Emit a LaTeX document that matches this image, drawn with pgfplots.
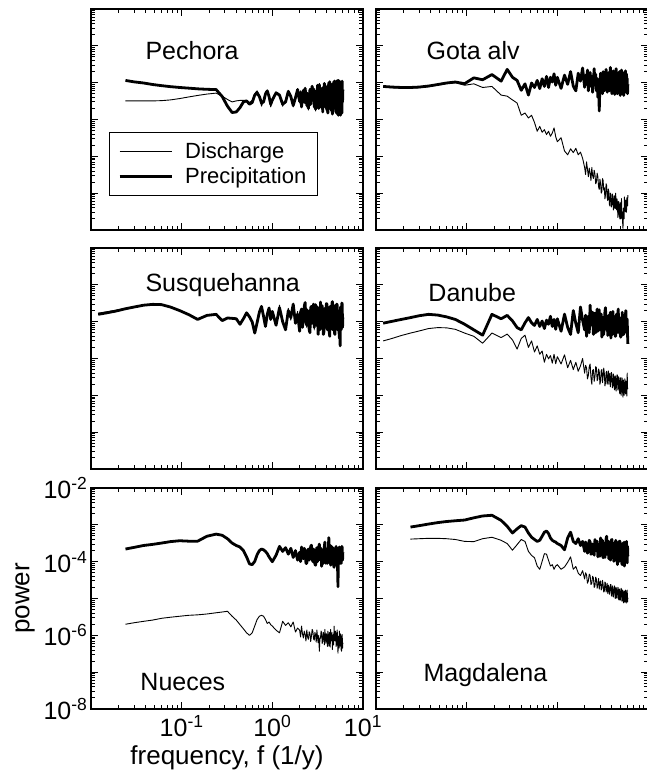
\documentclass[border=0pt]{standalone}
\usepackage{fontspec}
\setmainfont{Liberation Sans}
\usepackage{pgfplots}
\usepackage{pgfplotstable}
\pgfplotsset{compat=1.18}

% Pechora
\pgfplotstableread{
f q p
0.012 nan nan
0.015 nan nan
0.019 nan nan
0.024 3.2e-5 11.5e-5
0.03 3.2e-5 10.5e-5
0.038 3.2e-5 9.8e-5
0.048 3.2e-5 8.9e-5
0.06 3.25e-5 8.3e-5
0.075 3.4e-5 7.8e-5
0.095 3.7e-5 7.4e-5
0.12 4.1e-5 7.1e-5
0.15 4.5e-5 6.8e-5
0.19 4.9e-5 6.6e-5
0.24 5.2e-5 6.5e-5
0.28 4.3e-5 4.2e-5
0.32 3.5e-5 2.3e-5
0.36 3.0e-5 1.55e-5
0.40 3.2e-5 1.6e-5
0.44 3.3e-5 2.1e-5
0.48 3.3e-5 3.0e-5
0.52 3.3e-5 3.2e-5
0.56 2.9e-5 2.6e-5
0.60 3.3e-5 2.9e-5
0.64 5.1e-5 4.6e-5
0.68 6.0e-5 5.2e-5
0.72 4.6e-5 4.2e-5
0.76 2.3e-5 2.8e-5
0.80 3.3e-5 3.0e-5
0.84 5.6e-5 4.9e-5
0.88 6.2e-5 6.0e-5
0.92 3.7e-5 4.2e-5
0.96 2.2e-5 2.6e-5
1.0 3.0e-5 3.4e-5
1.1 5.6e-5 5.3e-5
1.2 4.2e-5 4.6e-5
1.3 2.3e-5 2.6e-5
1.4 3.4e-5 3.0e-5
1.5 6.2e-5 5.8e-5
1.6 3.8e-5 4.2e-5
1.7 2.2e-5 2.4e-5
1.8 4.3e-5 3.9e-5
1.9 6.9e-5 6.5e-5
2.00 2.8e-5 3.1e-5
2.05 6.0e-5 5.5e-5
2.10 2.4e-5 2.2e-5
2.15 4.2e-5 3.8e-5
2.20 5.8e-5 6.2e-5
2.25 2.7e-5 3.0e-5
2.30 7.5e-5 7.0e-5
2.35 3.8e-5 4.2e-5
2.40 2.2e-5 2.4e-5
2.45 5.4e-5 5.0e-5
2.50 1.8e-5 2.0e-5
2.55 3.8e-5 3.4e-5
2.60 7.0e-5 6.5e-5
2.65 2.4e-5 2.6e-5
2.70 6.2e-5 5.8e-5
2.75 7.4e-5 8.0e-5
2.80 3.2e-5 3.5e-5
2.85 7.2e-5 6.8e-5
2.90 2.0e-5 2.2e-5
2.95 4.8e-5 4.4e-5
3.00 1.7e-5 1.9e-5
3.05 6.4e-5 6.0e-5
3.10 2.7e-5 3.0e-5
3.15 9.0e-5 8.5e-5
3.20 3.6e-5 4.0e-5
3.25 2.2e-5 2.0e-5
3.30 9.5e-5 8.8e-5
3.35 4.5e-5 5.0e-5
3.40 2.2e-5 2.5e-5
3.45 7.4e-5 6.8e-5
3.50 1.9e-5 2.1e-5
3.55 4.5e-5 4.0e-5
3.60 1.8e-5 1.6e-5
3.65 8.0e-5 7.5e-5
3.70 3.4e-5 3.8e-5
3.75 10.0e-5 9.5e-5
3.80 5.0e-5 5.5e-5
3.85 2.0e-5 2.2e-5
3.90 7.6e-5 7.0e-5
3.95 2.9e-5 3.2e-5
4.00 1.6e-5 1.8e-5
4.05 8.8e-5 8.0e-5
4.10 1.7e-5 1.5e-5
4.15 4.4e-5 4.8e-5
4.20 10.5e-5 10.0e-5
4.25 2.7e-5 3.0e-5
4.30 11.0e-5 10.5e-5
4.35 5.0e-5 5.5e-5
4.40 1.7e-5 1.9e-5
4.45 7.8e-5 7.2e-5
4.50 2.5e-5 2.8e-5
4.55 9.6e-5 9.0e-5
4.60 1.5e-5 1.4e-5
4.65 5.8e-5 5.2e-5
4.70 2.9e-5 3.2e-5
4.75 11.0e-5 10.5e-5
4.80 3.6e-5 4.0e-5
4.85 10.0e-5 11.0e-5
4.90 1.8e-5 2.0e-5
4.95 7.0e-5 6.5e-5
5.00 1.5e-5 1.6e-5
5.05 9.2e-5 8.5e-5
5.10 1.4e-5 1.5e-5
5.15 4.9e-5 4.4e-5
5.20 10.5e-5 11.5e-5
5.25 2.0e-5 2.2e-5
5.30 8.2e-5 7.5e-5
5.35 1.4e-5 1.3e-5
5.40 10.5e-5 11.5e-5
5.45 4.5e-5 4.0e-5
5.50 8.2e-5 9.0e-5
5.55 1.6e-5 1.8e-5
5.60 6.6e-5 6.0e-5
5.65 1.4e-5 1.3e-5
5.70 9.5e-5 10.5e-5
5.75 2.9e-5 2.6e-5
5.80 9.2e-5 8.5e-5
5.85 1.4e-5 1.5e-5
5.90 10.0e-5 11.0e-5
5.95 2.7e-5 3.0e-5
6.00 6.0e-5 6.5e-5
}\tabA

% Gota alv
\pgfplotstableread{
f q p
0.012 7.6e-5 7.9e-5
0.015 7.3e-5 7.6e-5
0.019 7.1e-5 7.4e-5
0.024 7.1e-5 7.4e-5
0.03 7.3e-5 7.6e-5
0.038 7.8e-5 8.1e-5
0.048 8.6e-5 8.9e-5
0.06 9.5e-5 9.8e-5
0.075 1.0e-4 1.04e-4
0.095 8.5e-5 9.4e-5
0.12 9.3e-5 1.35e-4
0.15 7.4e-5 1.2e-4
0.19 7.9e-5 1.66e-4
0.24 4.6e-5 1.1e-4
0.28 4.3e-5 2.3e-4
0.32 3.4e-5 1.4e-4
0.36 2.8e-5 1.15e-4
0.40 1.3e-5 6.2e-5
0.44 1.5e-5 9.3e-5
0.48 1.1e-5 4.6e-5
0.52 1.3e-5 9.8e-5
0.56 8.3e-6 7.4e-5
0.60 4.8e-6 1.15e-4
0.64 6.5e-6 6.9e-5
0.68 4.5e-6 1.28e-4
0.72 5.3e-6 7.9e-5
0.76 3.9e-6 1.48e-4
0.80 4.8e-6 7.4e-5
0.84 3.5e-6 1.4e-4
0.88 4.3e-6 1.04e-4
0.92 5.9e-6 1.74e-4
0.96 3.4e-6 8.5e-5
1.0 2.5e-6 1.4e-4
1.1 3.2e-6 7.0e-5
1.2 1.4e-6 1.6e-4
1.3 1.1e-6 9.0e-5
1.4 1.6e-6 2.0e-4
1.5 1.26e-6 8.0e-5
1.6 1.65e-6 6.0e-5
1.7 1.1e-6 1.8e-4
1.8 1.3e-6 1.1e-4
1.9 8.9e-7 2.5e-4
2.00 5.0e-7 7.5e-5
2.05 3.2e-7 16e-5
2.10 7.1e-7 9.0e-5
2.15 4.5e-7 22e-5
2.20 2.8e-7 6.0e-5
2.25 4.8e-7 13e-5
2.30 3.5e-7 19e-5
2.35 2.2e-7 8.0e-5
2.40 5.0e-7 15e-5
2.45 3.0e-7 5.5e-5
2.50 2.5e-7 11e-5
2.55 4.2e-7 24e-5
2.60 3.3e-7 8.5e-5
2.65 1.8e-7 17e-5
2.70 2.0e-7 6.0e-5
2.75 3.5e-7 13e-5
2.80 2.8e-7 4.0e-5
2.85 1.5e-7 12e-5
2.90 1.26e-7 1.7e-5
2.95 2.4e-7 9.0e-5
3.00 1.8e-7 18e-5
3.05 1.0e-7 7.0e-5
3.10 1.1e-7 14e-5
3.15 2.5e-7 5.0e-5
3.20 2.2e-7 20e-5
3.25 1.2e-7 9.5e-5
3.30 1.4e-7 6.0e-5
3.35 7.0e-8 16e-5
3.40 8.9e-8 8.0e-5
3.45 1.8e-7 23e-5
3.50 1.6e-7 10e-5
3.55 7.5e-8 5.5e-5
3.60 6.3e-8 15e-5
3.65 1.3e-7 7.5e-5
3.70 1.1e-7 19e-5
3.75 5.0e-8 6.0e-5
3.80 4.5e-8 12e-5
3.85 1.0e-7 26e-5
3.90 8.9e-8 8.0e-5
3.95 4.2e-8 14e-5
4.00 5.0e-8 5.0e-5
4.05 9.5e-8 17e-5
4.10 7.9e-8 9.0e-5
4.15 3.5e-8 21e-5
4.20 4.0e-8 6.5e-5
4.25 8.5e-8 12e-5
4.30 7.1e-8 4.8e-5
4.35 3.8e-8 16e-5
4.40 1.0e-7 9.5e-5
4.45 5.0e-8 24e-5
4.50 3.5e-8 6.0e-5
4.55 7.0e-8 13e-5
4.60 5.6e-8 5.0e-5
4.65 2.2e-8 18e-5
4.70 2.5e-8 8.0e-5
4.75 6.0e-8 15e-5
4.80 5.0e-8 5.5e-5
4.85 2.4e-8 20e-5
4.90 2.0e-8 9.0e-5
4.95 5.5e-8 4.5e-5
5.00 4.5e-8 14e-5
5.05 2.0e-8 7.0e-5
5.10 7.1e-8 22e-5
5.15 3.5e-8 8.5e-5
5.20 2.8e-8 5.0e-5
5.25 1.6e-8 16e-5
5.30 1.1e-8 7.0e-5
5.35 3.0e-8 12e-5
5.40 4.0e-8 4.5e-5
5.45 2.0e-8 19e-5
5.50 7.9e-8 8.0e-5
5.55 4.0e-8 14e-5
5.60 3.2e-8 5.5e-5
5.65 6.5e-8 21e-5
5.70 6.3e-8 9.0e-5
5.75 3.0e-8 6.0e-5
5.80 3.5e-8 17e-5
5.85 7.5e-8 7.5e-5
5.90 7.1e-8 13e-5
5.95 4.5e-8 5.0e-5
6.00 8.9e-8 9.0e-5
}\tabB

% Susquehanna
\pgfplotstableread{
f q p
0.012 1.70e-4 1.58e-4
0.015 1.86e-4 1.74e-4
0.019 2.05e-4 1.95e-4
0.024 2.3e-4 2.24e-4
0.03 2.55e-4 2.5e-4
0.038 2.8e-4 2.8e-4
0.048 2.95e-4 2.95e-4
0.06 2.9e-4 2.9e-4
0.075 2.5e-4 2.5e-4
0.095 2.0e-4 2.0e-4
0.12 1.58e-4 1.55e-4
0.15 1.2e-4 1.15e-4
0.19 1.5e-4 1.48e-4
0.24 1.6e-4 1.58e-4
0.28 1.12e-4 1.07e-4
0.32 1.3e-4 1.26e-4
0.36 1.25e-4 1.23e-4
0.40 1.22e-4 1.2e-4
0.44 0.9e-4 0.85e-4
0.48 1.25e-4 1.2e-4
0.52 1.8e-4 1.74e-4
0.56 1.3e-4 1.35e-4
0.60 1.0e-4 0.98e-4
0.64 0.55e-4 0.49e-4
0.68 1.0e-4 0.95e-4
0.72 1.9e-4 1.82e-4
0.76 2.5e-4 2.6e-4
0.80 1.3e-4 1.4e-4
0.84 0.8e-4 0.74e-4
0.88 1.7e-4 1.58e-4
0.92 2.2e-4 2.35e-4
0.96 1.1e-4 1.15e-4
1.0 1.6e-4 1.9e-4
1.1 0.9e-4 0.8e-4
1.2 2.8e-4 2.4e-4
1.3 0.9e-4 1.0e-4
1.4 0.7e-4 0.6e-4
1.5 2.3e-4 2.0e-4
1.6 1.1e-4 1.3e-4
1.7 2.6e-4 3.0e-4
1.8 1.0e-4 0.9e-4
1.9 1.9e-4 1.6e-4
2.00 0.6e-4 0.55e-4
2.05 1.6e-4 1.8e-4
2.10 2.0e-4 2.2e-4
2.15 0.8e-4 0.7e-4
2.20 1.3e-4 1.1e-4
2.25 2.3e-4 2.6e-4
2.30 2.9e-4 3.3e-4
2.35 1.1e-4 1.0e-4
2.40 0.7e-4 0.8e-4
2.45 2.2e-4 2.0e-4
2.50 1.8e-4 1.5e-4
2.55 0.7e-4 0.6e-4
2.60 0.6e-4 0.5e-4
2.65 2.1e-4 2.4e-4
2.70 2.3e-4 2.6e-4
2.75 1.0e-4 0.9e-4
2.80 1.4e-4 1.2e-4
2.85 2.7e-4 3.0e-4
2.90 0.6e-4 0.7e-4
2.95 1.8e-4 1.6e-4
3.00 2.5e-4 2.9e-4
3.05 0.9e-4 0.8e-4
3.10 1.2e-4 1.0e-4
3.15 2.2e-4 2.5e-4
3.20 0.55e-4 0.45e-4
3.25 1.5e-4 1.3e-4
3.30 2.0e-4 1.8e-4
3.35 0.7e-4 0.6e-4
3.40 2.9e-4 3.4e-4
3.45 1.3e-4 1.1e-4
3.50 0.8e-4 0.9e-4
3.55 2.4e-4 2.7e-4
3.60 1.6e-4 1.4e-4
3.65 0.5e-4 0.45e-4
3.70 0.6e-4 0.5e-4
3.75 1.9e-4 2.1e-4
3.80 2.0e-4 2.3e-4
3.85 0.8e-4 0.7e-4
3.90 1.3e-4 1.1e-4
3.95 2.7e-4 3.1e-4
4.00 2.6e-4 3.0e-4
4.05 0.7e-4 0.6e-4
4.10 0.8e-4 0.7e-4
4.15 2.1e-4 2.4e-4
4.20 1.9e-4 1.7e-4
4.25 0.6e-4 0.5e-4
4.30 0.5e-4 0.4e-4
4.35 2.3e-4 2.6e-4
4.40 1.8e-4 2.0e-4
4.45 0.9e-4 0.8e-4
4.50 1.4e-4 1.2e-4
4.55 2.8e-4 3.2e-4
4.60 3.0e-4 3.5e-4
4.65 0.7e-4 0.6e-4
4.70 0.7e-4 0.8e-4
4.75 2.0e-4 2.2e-4
4.80 1.7e-4 1.5e-4
4.85 0.6e-4 0.5e-4
4.90 0.55e-4 0.45e-4
4.95 2.5e-4 2.8e-4
5.00 2.2e-4 2.5e-4
5.05 0.8e-4 0.7e-4
5.10 1.1e-4 1.0e-4
5.15 2.7e-4 3.0e-4
5.20 2.5e-4 2.8e-4
5.25 0.7e-4 0.6e-4
5.30 0.7e-4 0.6e-4
5.35 1.8e-4 2.0e-4
5.40 1.4e-4 1.6e-4
5.45 0.6e-4 0.5e-4
5.50 0.45e-4 0.35e-4
5.55 1.3e-4 1.5e-4
5.60 0.3e-4 0.22e-4
5.65 2.2e-4 2.5e-4
5.70 1.9e-4 2.2e-4
5.75 0.7e-4 0.6e-4
5.80 1.1e-4 0.9e-4
5.85 2.8e-4 3.2e-4
5.90 2.6e-4 3.0e-4
5.95 0.8e-4 0.7e-4
6.00 1.5e-4 1.3e-4
}\tabC

% Danube
\pgfplotstableread{
f q p
0.012 3.0e-5 9.1e-5
0.015 3.5e-5 10.2e-5
0.019 4.2e-5 11.5e-5
0.024 4.9e-5 12.9e-5
0.03 5.6e-5 14.5e-5
0.038 6.5e-5 15.8e-5
0.048 6.9e-5 15.1e-5
0.06 6.8e-5 13.5e-5
0.075 6.2e-5 11.5e-5
0.095 4.9e-5 8.5e-5
0.12 4.0e-5 6.0e-5
0.15 2.6e-5 4.3e-5
0.19 4.9e-5 15.8e-5
0.24 3.7e-5 12.0e-5
0.28 4.6e-5 14.8e-5
0.32 3.2e-5 10.5e-5
0.36 1.8e-5 6.9e-5
0.40 3.5e-5 6.0e-5
0.44 4.3e-5 9.3e-5
0.48 2.0e-5 12.9e-5
0.52 3.0e-5 9.3e-5
0.56 1.5e-5 7.9e-5
0.60 2.2e-5 11.5e-5
0.64 1.3e-5 7.4e-5
0.68 1.6e-5 10.4e-5
0.72 0.79e-5 6.5e-5
0.76 1.3e-5 11.0e-5
0.80 0.98e-5 8.5e-5
0.84 1.2e-5 14.0e-5
0.88 0.75e-5 7.4e-5
0.92 1.3e-5 11.5e-5
0.96 0.72e-5 6.2e-5
1.0 11.2e-6 12e-5
1.1 7.1e-6 5.5e-5
1.2 12.6e-6 16e-5
1.3 5.6e-6 7.0e-5
1.4 8.9e-6 4.5e-5
1.5 5.0e-6 20e-5
1.6 7.9e-6 9.0e-5
1.7 4.5e-6 5.0e-5
1.8 6.3e-6 25e-5
1.9 10e-6 11e-5
2.00 4.0e-6 6.0e-5
2.05 6.5e-6 15e-5
2.10 5.6e-6 4.0e-5
2.15 2.8e-6 9.5e-5
2.20 3.5e-6 14e-5
2.25 6.0e-6 5.0e-5
2.30 7.1e-6 28e-5
2.35 3.0e-6 9.0e-5
2.40 2.0e-6 8.0e-5
2.45 4.8e-6 18e-5
2.50 5.0e-6 4.5e-5
2.55 2.4e-6 12e-5
2.60 3.2e-6 17e-5
2.65 6.0e-6 5.0e-5
2.70 5.6e-6 10e-5
2.75 2.5e-6 22e-5
2.80 2.8e-6 5.5e-5
2.85 5.2e-6 13e-5
2.90 4.5e-6 21e-5
2.95 2.0e-6 6.0e-5
3.00 2.5e-6 7.5e-5
3.05 4.8e-6 16e-5
3.10 5.0e-6 3.8e-5
3.15 2.2e-6 9.0e-5
3.20 3.2e-6 13e-5
3.25 5.5e-6 4.5e-5
3.30 4.0e-6 9.0e-5
3.35 1.8e-6 19e-5
3.40 2.2e-6 24e-5
3.45 4.2e-6 7.0e-5
3.50 4.5e-6 6.0e-5
3.55 2.0e-6 14e-5
3.60 2.8e-6 4.2e-5
3.65 4.6e-6 11e-5
3.70 2.0e-6 15e-5
3.75 3.6e-6 5.0e-5
3.80 4.0e-6 8.5e-5
3.85 1.7e-6 18e-5
3.90 2.5e-6 3.6e-5
3.95 4.2e-6 10e-5
4.00 3.5e-6 11e-5
4.05 1.6e-6 4.5e-5
4.10 1.8e-6 19e-5
4.15 3.8e-6 7.0e-5
4.20 3.2e-6 5.5e-5
4.25 1.5e-6 14e-5
4.30 1.4e-6 9.5e-5
4.35 3.4e-6 4.0e-5
4.40 2.8e-6 4.0e-5
4.45 1.3e-6 12e-5
4.50 2.0e-6 16e-5
4.55 3.6e-6 5.0e-5
4.60 3.5e-6 7.0e-5
4.65 1.4e-6 17e-5
4.70 1.6e-6 22e-5
4.75 3.2e-6 6.0e-5
4.80 2.5e-6 5.0e-5
4.85 1.2e-6 13e-5
4.90 1.1e-6 12e-5
4.95 3.0e-6 4.5e-5
5.00 2.2e-6 3.8e-5
5.05 1.0e-6 11e-5
5.10 1.4e-6 9.0e-5
5.15 3.0e-6 4.2e-5
5.20 2.8e-6 18e-5
5.25 1.2e-6 7.5e-5
5.30 0.89e-6 6.0e-5
5.35 2.6e-6 15e-5
5.40 2.0e-6 4.5e-5
5.45 1.0e-6 9.0e-5
5.50 1.26e-6 14e-5
5.55 2.8e-6 5.0e-5
5.60 2.5e-6 7.5e-5
5.65 1.1e-6 16e-5
5.70 1.1e-6 20e-5
5.75 2.4e-6 6.5e-5
5.80 1.8e-6 5.5e-5
5.85 0.95e-6 12e-5
5.90 4.0e-6 11e-5
5.95 1.5e-6 4.5e-5
6.00 1.6e-6 2.5e-5
}\tabD

% Nueces
\pgfplotstableread{
f q p
0.012 nan nan
0.015 nan nan
0.019 nan nan
0.024 2.0e-6 2.2e-4
0.03 2.2e-6 2.45e-4
0.038 2.4e-6 2.75e-4
0.048 2.6e-6 2.95e-4
0.06 2.9e-6 3.2e-4
0.075 3.1e-6 3.5e-4
0.095 3.3e-6 3.7e-4
0.12 3.5e-6 3.6e-4
0.15 3.6e-6 3.6e-4
0.19 3.8e-6 4.9e-4
0.24 4.1e-6 5.6e-4
0.28 4.3e-6 5.2e-4
0.32 4.5e-6 4.2e-4
0.36 3.3e-6 3.2e-4
0.40 2.6e-6 2.75e-4
0.44 1.95e-6 2.5e-4
0.48 1.5e-6 2.0e-4
0.52 1.17e-6 1.35e-4
0.56 1.0e-6 0.87e-4
0.60 1.17e-6 0.83e-4
0.64 1.8e-6 1.02e-4
0.68 2.7e-6 1.55e-4
0.72 3.3e-6 2.0e-4
0.76 3.5e-6 2.2e-4
0.80 3.3e-6 2.1e-4
0.84 2.7e-6 1.9e-4
0.88 2.1e-6 1.65e-4
0.92 2.3e-6 1.35e-4
0.96 1.95e-6 1.15e-4
1.0 17.8e-7 1.0e-4
1.1 13.8e-7 1.5e-4
1.2 11.7e-7 2.6e-4
1.3 24e-7 1.9e-4
1.4 18.6e-7 2.4e-4
1.5 22e-7 1.6e-4
1.6 17e-7 2.3e-4
1.7 23e-7 1.3e-4
1.8 12.3e-7 2.0e-4
1.9 15.8e-7 1.1e-4
2.00 13.8e-7 1.8e-4
2.05 9.0e-7 1.0e-4
2.10 17.8e-7 2.5e-4
2.15 11.0e-7 1.5e-4
2.20 8.5e-7 1.2e-4
2.25 13e-7 2.3e-4
2.30 10.5e-7 1.9e-4
2.35 7.0e-7 0.9e-4
2.40 14e-7 0.9e-4
2.45 9.0e-7 2.0e-4
2.50 7.8e-7 2.2e-4
2.55 12.5e-7 1.1e-4
2.60 11.3e-7 1.4e-4
2.65 6.8e-7 2.6e-4
2.70 9.5e-7 2.8e-4
2.75 14.5e-7 1.2e-4
2.80 13e-7 1.0e-4
2.85 8.0e-7 2.2e-4
2.90 7.4e-7 1.7e-4
2.95 12e-7 0.85e-4
3.00 10.3e-7 0.8e-4
3.05 6.5e-7 1.9e-4
3.10 14e-7 2.4e-4
3.15 9.0e-7 1.0e-4
3.20 6.3e-7 1.3e-4
3.25 10e-7 2.5e-4
3.30 3.7e-7 3.0e-4
3.35 8.0e-7 1.2e-4
3.40 8.5e-7 1.1e-4
3.45 13e-7 2.3e-4
3.50 11.7e-7 0.75e-4
3.55 6.0e-7 1.6e-4
3.60 7.1e-7 2.0e-4
3.65 12e-7 0.9e-4
3.70 10e-7 1.4e-4
3.75 5.5e-7 2.6e-4
3.80 14.5e-7 3.4e-4
3.85 8.0e-7 1.3e-4
3.90 6.1e-7 0.9e-4
3.95 11e-7 2.0e-4
4.00 9.5e-7 2.2e-4
4.05 5.0e-7 0.9e-4
4.10 13e-7 1.2e-4
4.15 8.0e-7 2.4e-4
4.20 5.1e-7 4.5e-4
4.25 12e-7 1.2e-4
4.30 9.1e-7 1.6e-4
4.35 4.8e-7 2.8e-4
4.40 14.5e-7 0.8e-4
4.45 7.0e-7 1.7e-4
4.50 7.8e-7 2.6e-4
4.55 12e-7 1.0e-4
4.60 4.1e-7 1.0e-4
4.65 9.0e-7 2.4e-4
4.70 10.5e-7 2.0e-4
4.75 5.5e-7 0.8e-4
4.80 17.8e-7 0.7e-4
4.85 8.0e-7 2.1e-4
4.90 7.1e-7 2.3e-4
4.95 13e-7 1.0e-4
5.00 11.7e-7 1.3e-4
5.05 5.0e-7 2.6e-4
5.10 5.7e-7 0.8e-4
5.15 11e-7 1.5e-4
5.20 14e-7 2.0e-4
5.25 6.0e-7 0.6e-4
5.30 3.3e-7 0.21e-4
5.35 9.0e-7 1.4e-4
5.40 9.5e-7 1.1e-4
5.45 4.5e-7 2.2e-4
5.50 13e-7 2.5e-4
5.55 7.0e-7 1.0e-4
5.60 5.1e-7 0.9e-4
5.65 11e-7 2.3e-4
5.70 8.5e-7 2.0e-4
5.75 4.0e-7 0.9e-4
5.80 3.7e-7 1.2e-4
5.85 9.5e-7 2.6e-4
5.90 10.5e-7 2.4e-4
5.95 4.5e-7 1.1e-4
6.00 6.3e-7 1.8e-4
}\tabE

% Magdalena
\pgfplotstableread{
f q p
0.012 nan nan
0.015 nan nan
0.019 nan nan
0.024 4.1e-4 0.87e-3
0.03 4.2e-4 0.95e-3
0.038 4.3e-4 1.05e-3
0.048 4.3e-4 1.15e-3
0.06 4.2e-4 1.23e-3
0.075 4.0e-4 1.29e-3
0.095 3.55e-4 1.35e-3
0.12 3.5e-4 1.55e-3
0.15 4.2e-4 1.74e-3
0.19 4.6e-4 1.82e-3
0.24 3.8e-4 1.32e-3
0.28 3.1e-4 0.91e-3
0.32 2.05e-4 0.60e-3
0.36 2.9e-4 0.78e-3
0.40 4.0e-4 0.95e-3
0.44 3.55e-4 0.87e-3
0.48 1.9e-4 0.60e-3
0.52 1.48e-4 0.46e-3
0.56 1.28e-4 0.40e-3
0.60 0.76e-4 0.355e-3
0.64 0.62e-4 0.38e-3
0.68 1.02e-4 0.49e-3
0.72 1.65e-4 0.63e-3
0.76 1.6e-4 0.68e-3
0.80 1.08e-4 0.58e-3
0.84 0.76e-4 0.44e-3
0.88 0.83e-4 0.38e-3
0.92 0.62e-4 0.355e-3
0.96 0.76e-4 0.34e-3
1.0 8.3e-5 3.1e-4
1.1 6.2e-5 2.75e-4
1.2 7.2e-5 2.1e-4
1.3 9.6e-5 4.4e-4
1.4 13.5e-5 6.3e-4
1.5 6.2e-5 3.55e-4
1.6 7.4e-5 3.1e-4
1.7 4.9e-5 4.2e-4
1.8 4.2e-5 2.75e-4
1.9 5.7e-5 3.55e-4
2.00 3.4e-5 1.9e-4
2.05 5.0e-5 3.4e-4
2.10 4.4e-5 2.9e-4
2.15 2.6e-5 1.7e-4
2.20 3.0e-5 2.1e-4
2.25 4.6e-5 3.8e-4
2.30 4.2e-5 3.4e-4
2.35 2.4e-5 1.6e-4
2.40 2.6e-5 1.65e-4
2.45 4.0e-5 3.0e-4
2.50 3.6e-5 2.6e-4
2.55 2.0e-5 1.5e-4
2.60 2.2e-5 4.0e-4
2.65 3.8e-5 2.0e-4
2.70 3.3e-5 2.1e-4
2.75 1.9e-5 3.6e-4
2.80 2.4e-5 1.35e-4
2.85 3.5e-5 2.4e-4
2.90 1.8e-5 2.9e-4
2.95 2.8e-5 1.4e-4
3.00 3.0e-5 4.4e-4
3.05 1.7e-5 2.0e-4
3.10 1.9e-5 2.2e-4
3.15 3.1e-5 3.8e-4
3.20 2.4e-5 1.28e-4
3.25 1.5e-5 2.6e-4
3.30 1.6e-5 3.2e-4
3.35 2.8e-5 1.3e-4
3.40 2.6e-5 1.9e-4
3.45 1.5e-5 4.2e-4
3.50 1.75e-5 4.9e-4
3.55 2.6e-5 1.6e-4
3.60 1.35e-5 2.4e-4
3.65 2.3e-5 3.6e-4
3.70 2.1e-5 1.2e-4
3.75 1.3e-5 2.2e-4
3.80 1.5e-5 2.75e-4
3.85 2.4e-5 1.1e-4
3.90 2.4e-5 1.6e-4
3.95 1.2e-5 3.9e-4
4.00 1.15e-5 4.0e-4
4.05 2.2e-5 1.3e-4
4.10 1.75e-5 1.9e-4
4.15 1.1e-5 3.2e-4
4.20 1.4e-5 1.02e-4
4.25 2.2e-5 2.0e-4
4.30 2.1e-5 2.5e-4
4.35 1.0e-5 1.1e-4
4.40 1.05e-5 3.8e-4
4.45 2.0e-5 2.0e-4
4.50 1.7e-5 1.4e-4
4.55 1.0e-5 3.4e-4
4.60 1.35e-5 0.83e-4
4.65 2.0e-5 1.8e-4
4.70 1.9e-5 2.6e-4
4.75 0.95e-5 1.0e-4
4.80 0.91e-5 1.7e-4
4.85 1.8e-5 3.6e-4
4.90 1.5e-5 3.55e-4
4.95 0.9e-5 1.2e-4
5.00 1.2e-5 1.15e-4
5.05 1.9e-5 3.0e-4
5.10 1.75e-5 2.1e-4
5.15 0.85e-5 0.9e-4
5.20 0.87e-5 0.83e-4
5.25 1.7e-5 2.8e-4
5.30 1.35e-5 3.2e-4
5.35 0.8e-5 1.0e-4
5.40 0.76e-5 1.6e-4
5.45 1.6e-5 3.4e-4
5.50 1.6e-5 0.76e-4
5.55 0.8e-5 2.0e-4
5.60 1.05e-5 2.9e-4
5.65 1.7e-5 1.0e-4
5.70 1.4e-5 1.35e-4
5.75 0.75e-5 3.2e-4
5.80 0.87e-5 3.55e-4
5.85 1.5e-5 1.0e-4
5.90 1.7e-5 0.93e-4
5.95 0.8e-5 2.6e-4
6.00 1.05e-5 1.4e-4
}\tabF

\newcommand{\plab}{\fontsize{25}{30}\selectfont}

\begin{document}
\begin{tikzpicture}
\useasboundingbox (0pt,0pt) rectangle (647pt,780pt);

% Pechora
\begin{axis}[at={(91pt,550pt)}, anchor=south west,
  scale only axis, width=272pt, height=221pt,
  xmode=log, ymode=log, xmin=0.01, xmax=10, ymin=1e-8, ymax=1e-2,
  xtick={0.01,0.1,1,10},
  minor xtick={0.02,0.03,0.04,0.05,0.06,0.07,0.08,0.09,0.2,0.3,0.4,0.5,0.6,0.7,0.8,0.9,2,3,4,5,6,7,8,9},
  ytick={1e-8,1e-7,1e-6,1e-5,1e-4,1e-3,1e-2},
  minor ytick={2e-8,3e-8,4e-8,5e-8,6e-8,7e-8,8e-8,9e-8,2e-7,3e-7,4e-7,5e-7,6e-7,7e-7,8e-7,9e-7,2e-6,3e-6,4e-6,5e-6,6e-6,7e-6,8e-6,9e-6,2e-5,3e-5,4e-5,5e-5,6e-5,7e-5,8e-5,9e-5,2e-4,3e-4,4e-4,5e-4,6e-4,7e-4,8e-4,9e-4,2e-3,3e-3,4e-3,5e-3,6e-3,7e-3,8e-3,9e-3},
  xticklabels={}, yticklabels={},
  major tick length=7pt, minor tick length=4pt, tick align=inside,
  axis line style={line width=1.1pt},
  tick style={line width=0.9pt, black},
  legend style={at={(0.066,0.443)}, anchor=north west, draw=black, line width=0.8pt,
    font=\fontsize{22}{26}\selectfont, inner xsep=9pt, inner ysep=8pt, row sep=4pt},
  legend cell align=left,
  legend image post style={xscale=3.05}]
\addplot[black, line width=0.9pt, line join=round, mark=none] table[x=f,y=q] {\tabA};
\addlegendentry{\hspace{10pt}Discharge}
\addplot[black, line width=2.8pt, line join=round, mark=none] table[x=f,y=p] {\tabA};
\addlegendentry{\hspace{10pt}Precipitation}
\node[anchor=west, font=\plab] at (rel axis cs:0.1875,0.814) {Pechora};
\end{axis}

% Gota alv
\begin{axis}[at={(376pt,550pt)}, anchor=south west,
  scale only axis, width=272pt, height=221pt,
  xmode=log, ymode=log, xmin=0.01, xmax=10, ymin=1e-8, ymax=1e-2,
  xtick={0.01,0.1,1,10},
  minor xtick={0.02,0.03,0.04,0.05,0.06,0.07,0.08,0.09,0.2,0.3,0.4,0.5,0.6,0.7,0.8,0.9,2,3,4,5,6,7,8,9},
  ytick={1e-8,1e-7,1e-6,1e-5,1e-4,1e-3,1e-2},
  minor ytick={2e-8,3e-8,4e-8,5e-8,6e-8,7e-8,8e-8,9e-8,2e-7,3e-7,4e-7,5e-7,6e-7,7e-7,8e-7,9e-7,2e-6,3e-6,4e-6,5e-6,6e-6,7e-6,8e-6,9e-6,2e-5,3e-5,4e-5,5e-5,6e-5,7e-5,8e-5,9e-5,2e-4,3e-4,4e-4,5e-4,6e-4,7e-4,8e-4,9e-4,2e-3,3e-3,4e-3,5e-3,6e-3,7e-3,8e-3,9e-3},
  xticklabels={}, yticklabels={},
  major tick length=7pt, minor tick length=4pt, tick align=inside,
  axis line style={line width=1.1pt},
  tick style={line width=0.9pt, black}]
\addplot[black, line width=0.9pt, line join=round, mark=none] table[x=f,y=q] {\tabB};
\addplot[black, line width=2.8pt, line join=round, mark=none] table[x=f,y=p] {\tabB};
\node[anchor=west, font=\plab] at (rel axis cs:0.173,0.814) {Gota alv};
\end{axis}

% Susquehanna
\begin{axis}[at={(91pt,311pt)}, anchor=south west,
  scale only axis, width=272pt, height=221pt,
  xmode=log, ymode=log, xmin=0.01, xmax=10, ymin=1e-8, ymax=1e-2,
  xtick={0.01,0.1,1,10},
  minor xtick={0.02,0.03,0.04,0.05,0.06,0.07,0.08,0.09,0.2,0.3,0.4,0.5,0.6,0.7,0.8,0.9,2,3,4,5,6,7,8,9},
  ytick={1e-8,1e-7,1e-6,1e-5,1e-4,1e-3,1e-2},
  minor ytick={2e-8,3e-8,4e-8,5e-8,6e-8,7e-8,8e-8,9e-8,2e-7,3e-7,4e-7,5e-7,6e-7,7e-7,8e-7,9e-7,2e-6,3e-6,4e-6,5e-6,6e-6,7e-6,8e-6,9e-6,2e-5,3e-5,4e-5,5e-5,6e-5,7e-5,8e-5,9e-5,2e-4,3e-4,4e-4,5e-4,6e-4,7e-4,8e-4,9e-4,2e-3,3e-3,4e-3,5e-3,6e-3,7e-3,8e-3,9e-3},
  xticklabels={}, yticklabels={},
  major tick length=7pt, minor tick length=4pt, tick align=inside,
  axis line style={line width=1.1pt},
  tick style={line width=0.9pt, black}]
\addplot[black, line width=0.9pt, line join=round, mark=none] table[x=f,y=q] {\tabC};
\addplot[black, line width=2.8pt, line join=round, mark=none] table[x=f,y=p] {\tabC};
\node[anchor=west, font=\plab] at (rel axis cs:0.1875,0.833) {Susquehanna};
\end{axis}

% Danube
\begin{axis}[at={(376pt,311pt)}, anchor=south west,
  scale only axis, width=272pt, height=221pt,
  xmode=log, ymode=log, xmin=0.01, xmax=10, ymin=1e-8, ymax=1e-2,
  xtick={0.01,0.1,1,10},
  minor xtick={0.02,0.03,0.04,0.05,0.06,0.07,0.08,0.09,0.2,0.3,0.4,0.5,0.6,0.7,0.8,0.9,2,3,4,5,6,7,8,9},
  ytick={1e-8,1e-7,1e-6,1e-5,1e-4,1e-3,1e-2},
  minor ytick={2e-8,3e-8,4e-8,5e-8,6e-8,7e-8,8e-8,9e-8,2e-7,3e-7,4e-7,5e-7,6e-7,7e-7,8e-7,9e-7,2e-6,3e-6,4e-6,5e-6,6e-6,7e-6,8e-6,9e-6,2e-5,3e-5,4e-5,5e-5,6e-5,7e-5,8e-5,9e-5,2e-4,3e-4,4e-4,5e-4,6e-4,7e-4,8e-4,9e-4,2e-3,3e-3,4e-3,5e-3,6e-3,7e-3,8e-3,9e-3},
  xticklabels={}, yticklabels={},
  major tick length=7pt, minor tick length=4pt, tick align=inside,
  axis line style={line width=1.1pt},
  tick style={line width=0.9pt, black}]
\addplot[black, line width=0.9pt, line join=round, mark=none] table[x=f,y=q] {\tabD};
\addplot[black, line width=2.8pt, line join=round, mark=none] table[x=f,y=p] {\tabD};
\node[anchor=west, font=\plab] at (rel axis cs:0.18,0.80) {Danube};
\end{axis}

% Nueces
\begin{axis}[at={(91pt,71pt)}, anchor=south west,
  scale only axis, width=272pt, height=221pt,
  xmode=log, ymode=log, xmin=0.01, xmax=10, ymin=1e-8, ymax=1e-2,
  xtick={0.01,0.1,1,10},
  minor xtick={0.02,0.03,0.04,0.05,0.06,0.07,0.08,0.09,0.2,0.3,0.4,0.5,0.6,0.7,0.8,0.9,2,3,4,5,6,7,8,9},
  ytick={1e-8,1e-7,1e-6,1e-5,1e-4,1e-3,1e-2},
  minor ytick={2e-8,3e-8,4e-8,5e-8,6e-8,7e-8,8e-8,9e-8,2e-7,3e-7,4e-7,5e-7,6e-7,7e-7,8e-7,9e-7,2e-6,3e-6,4e-6,5e-6,6e-6,7e-6,8e-6,9e-6,2e-5,3e-5,4e-5,5e-5,6e-5,7e-5,8e-5,9e-5,2e-4,3e-4,4e-4,5e-4,6e-4,7e-4,8e-4,9e-4,2e-3,3e-3,4e-3,5e-3,6e-3,7e-3,8e-3,9e-3},
  xticklabels={,10\textsuperscript{-1},10\textsuperscript{0},10\textsuperscript{1}},
  yticklabels={10\textsuperscript{-8},,10\textsuperscript{-6},,10\textsuperscript{-4},,10\textsuperscript{-2}},
  major tick length=7pt, minor tick length=4pt, tick align=inside,
  axis line style={line width=1.1pt},
  tick style={line width=0.9pt, black},
  tick label style={font=\fontsize{25}{30}\selectfont},
  xticklabel style={yshift=-3pt},
  xlabel={frequency, f (1/y)}, ylabel={power},
  xlabel style={font=\fontsize{26}{31}\selectfont, yshift=-2pt},
  ylabel style={font=\fontsize{26}{31}\selectfont, yshift=2pt}]
\addplot[black, line width=0.9pt, line join=round, mark=none] table[x=f,y=q] {\tabE};
\addplot[black, line width=2.8pt, line join=round, mark=none] table[x=f,y=p] {\tabE};
\node[anchor=west, font=\plab] at (rel axis cs:0.169,0.122) {Nueces};
\end{axis}

% Magdalena
\begin{axis}[at={(376pt,71pt)}, anchor=south west,
  scale only axis, width=272pt, height=221pt,
  xmode=log, ymode=log, xmin=0.01, xmax=10, ymin=1e-8, ymax=1e-2,
  xtick={0.01,0.1,1,10},
  minor xtick={0.02,0.03,0.04,0.05,0.06,0.07,0.08,0.09,0.2,0.3,0.4,0.5,0.6,0.7,0.8,0.9,2,3,4,5,6,7,8,9},
  ytick={1e-8,1e-7,1e-6,1e-5,1e-4,1e-3,1e-2},
  minor ytick={2e-8,3e-8,4e-8,5e-8,6e-8,7e-8,8e-8,9e-8,2e-7,3e-7,4e-7,5e-7,6e-7,7e-7,8e-7,9e-7,2e-6,3e-6,4e-6,5e-6,6e-6,7e-6,8e-6,9e-6,2e-5,3e-5,4e-5,5e-5,6e-5,7e-5,8e-5,9e-5,2e-4,3e-4,4e-4,5e-4,6e-4,7e-4,8e-4,9e-4,2e-3,3e-3,4e-3,5e-3,6e-3,7e-3,8e-3,9e-3},
  xticklabels={}, yticklabels={},
  major tick length=7pt, minor tick length=4pt, tick align=inside,
  axis line style={line width=1.1pt},
  tick style={line width=0.9pt, black}]
\addplot[black, line width=0.9pt, line join=round, mark=none] table[x=f,y=q] {\tabF};
\addplot[black, line width=2.8pt, line join=round, mark=none] table[x=f,y=p] {\tabF};
\node[anchor=west, font=\plab] at (rel axis cs:0.162,0.154) {Magdalena};
\end{axis}
\end{tikzpicture}
\end{document}
